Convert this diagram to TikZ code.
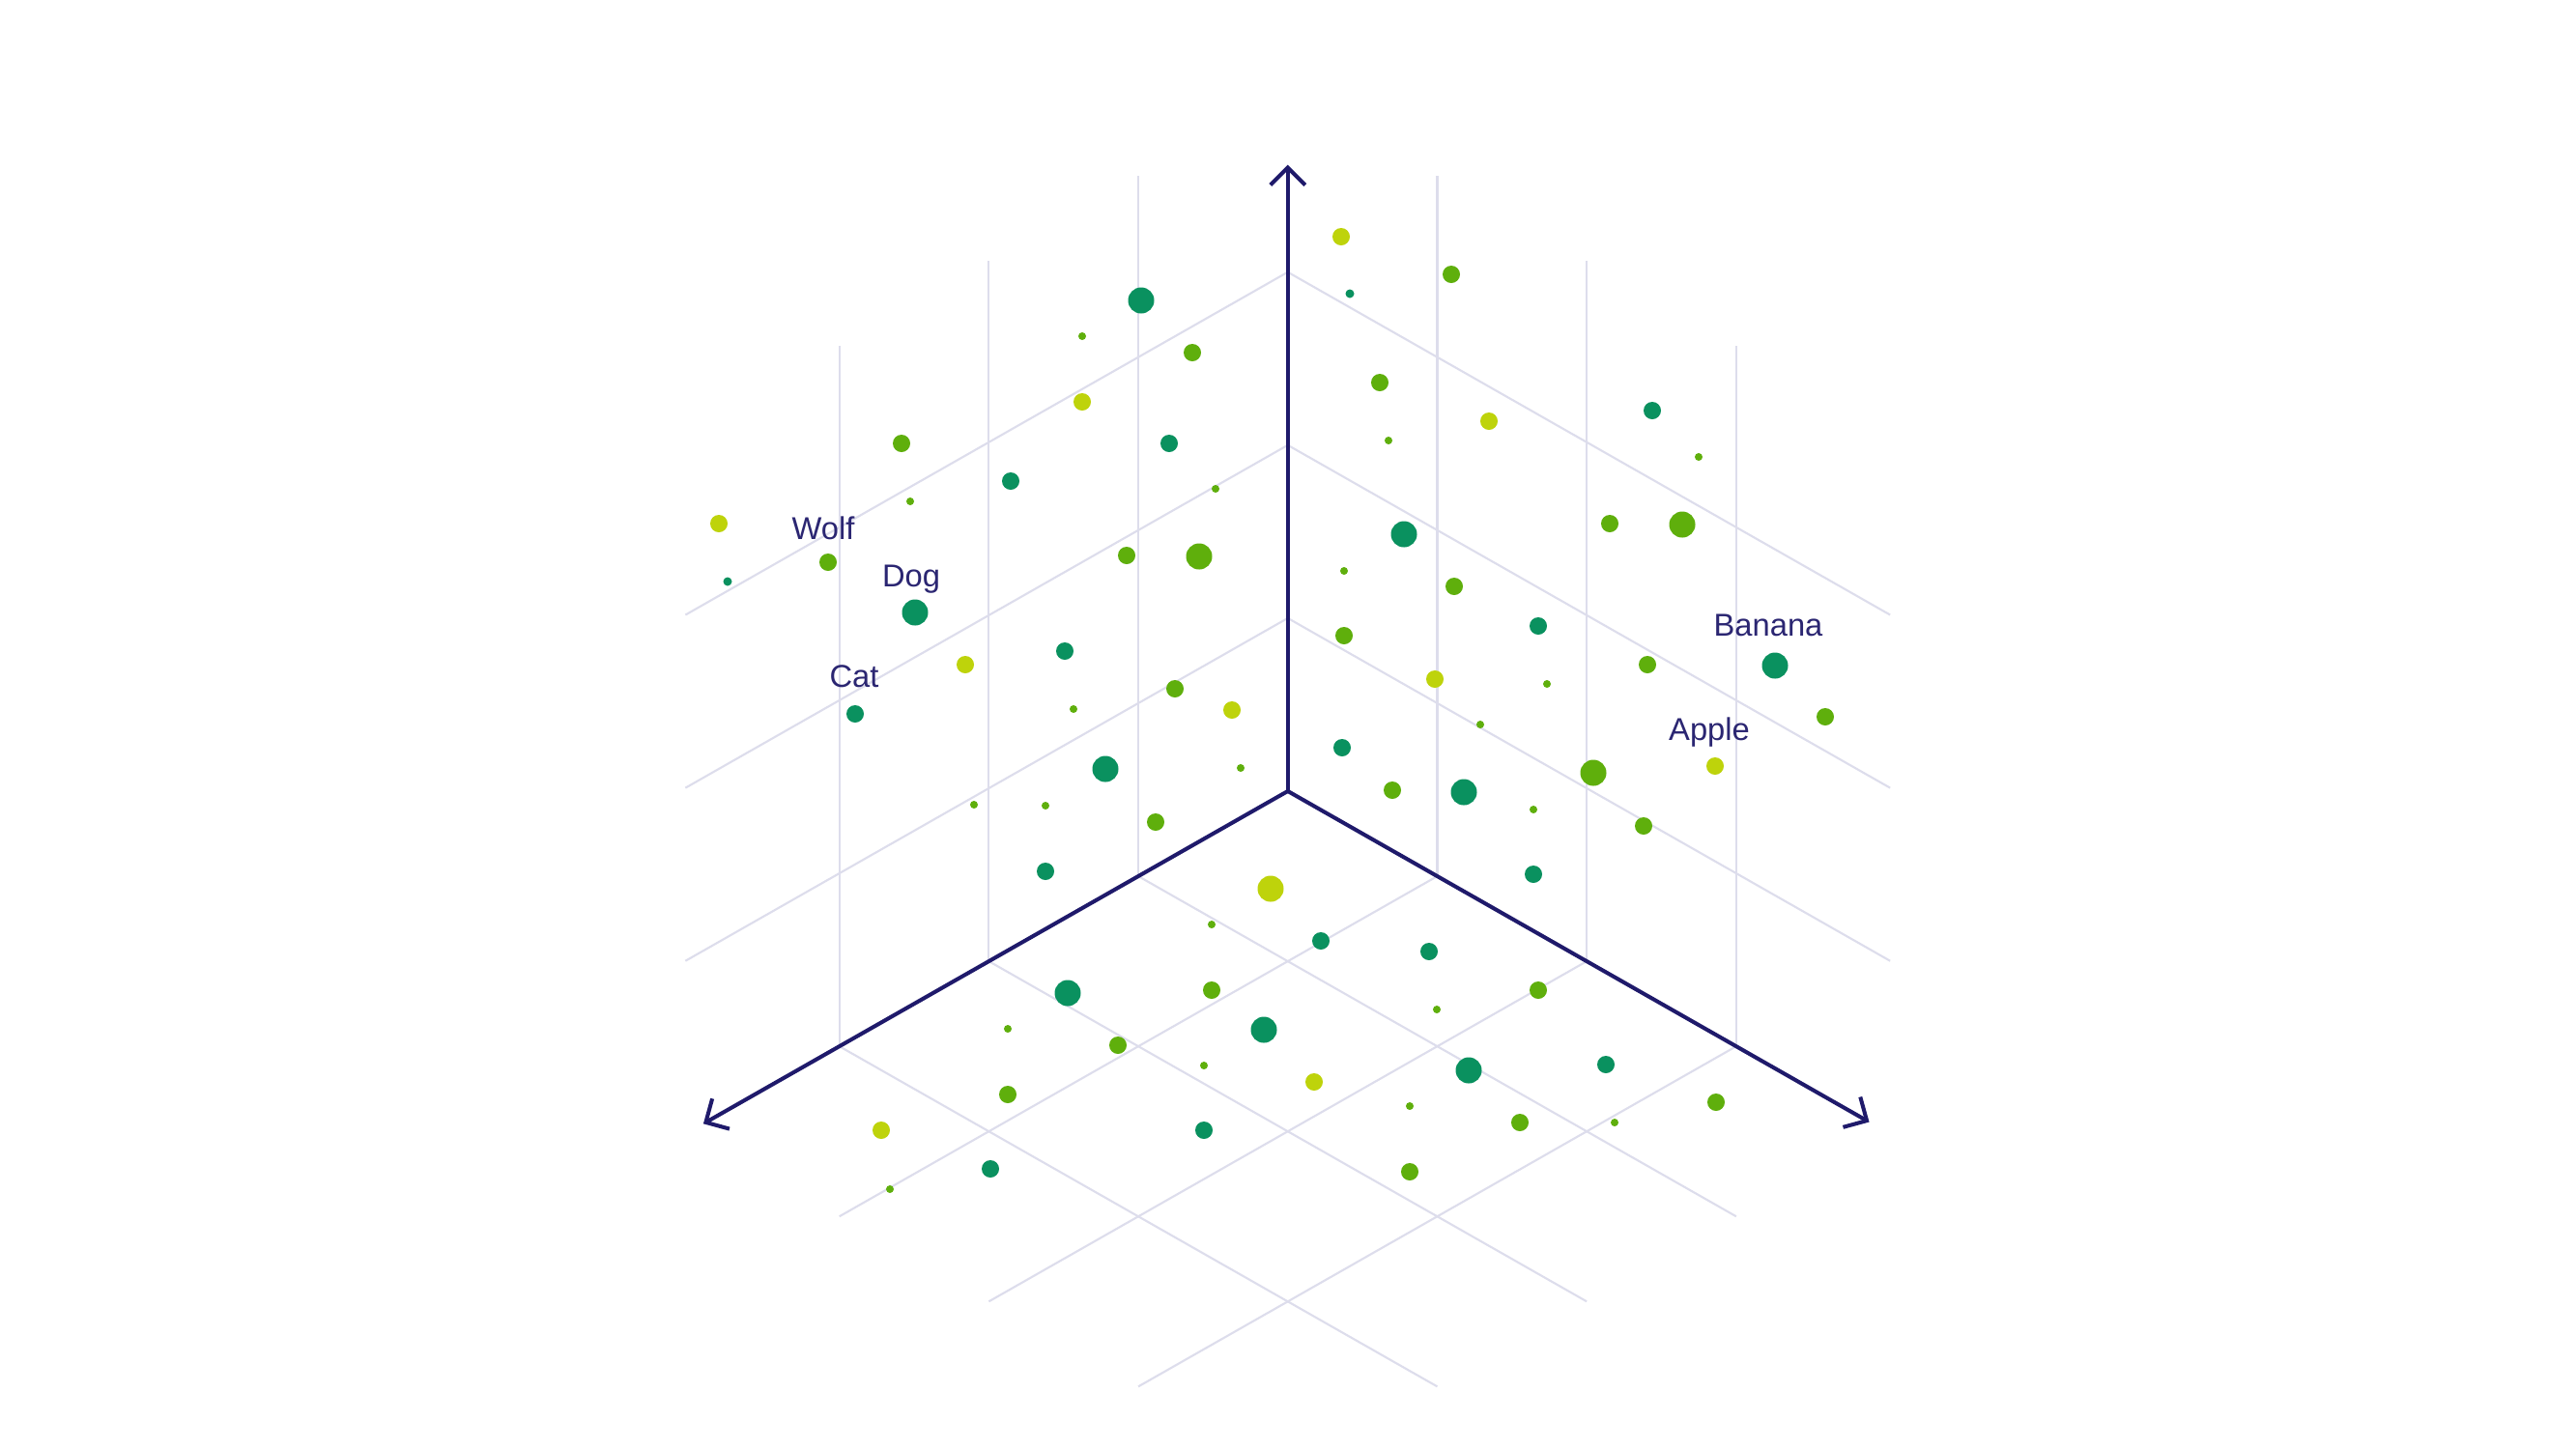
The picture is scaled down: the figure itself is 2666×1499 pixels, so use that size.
\documentclass[tikz,border=0pt]{standalone}
\usepackage{fontspec}
\setmainfont{Liberation Sans}
\usetikzlibrary{arrows.meta}
\definecolor{dg}{HTML}{0A915F}
\definecolor{mg}{HTML}{5FAF0C}
\definecolor{yg}{HTML}{BED30B}
\definecolor{navy}{HTML}{1F1A6B}
\definecolor{labelc}{HTML}{2B2672}
\definecolor{gridc}{HTML}{DDDDEC}
\begin{document}
\begin{tikzpicture}[x=0.01cm,y=-0.01cm,
  gridline/.style={draw=gridc, line width=0.6pt},
  axisline/.style={draw=navy, line width=1.15pt, line cap=round, line join=round, -{Straight Barb[length=1.8mm,width=3.6mm]}},
  lbl/.style={text=labelc, font=\fontsize{9.3}{11}\selectfont, anchor=base, inner sep=0pt},
  dL/.style={radius=1.35mm}, dM/.style={radius=0.9mm}, dS/.style={radius=0.45mm}, dT/.style={radius=0.4mm}]
\fill[white] (0,0) rectangle (2666,1499);
\useasboundingbox (0,0) rectangle (2666,1499);

\begin{scope}[shift={(13.32cm,-8.185cm)}, x={(-1.546cm,-0.88cm)}, y={(1.546cm,-0.88cm)}, z={(0cm,1.79cm)}]
  % left wall (b=0)
  \foreach \a in {1,2,3} \draw[gridline] (\a,0,0) -- (\a,0,4.05);
  \foreach \c in {1,2,3} \draw[gridline] (0,0,\c) -- (4.03,0,\c);
  % right wall (a=0)
  \foreach \b in {1,2,3} \draw[gridline] (0,\b,0) -- (0,\b,4.05);
  \foreach \c in {1,2,3} \draw[gridline] (0,0,\c) -- (0,4.03,\c);
  % floor (c=0)
  \foreach \a in {1,2,3} \draw[gridline] (\a,0,0) -- (\a,4.0,0);
  \foreach \b in {1,2,3} \draw[gridline] (0,\b,0) -- (4.0,\b,0);
  % axes
  \coordinate (O) at (0,0,0);
  \coordinate (tipU) at (0,0,3.62);
  \coordinate (tipL) at (3.91,0,0);
  \coordinate (tipR) at (0,3.89,0);
\end{scope}
\draw[axisline] (O) -- (tipU);
\draw[axisline] (O) -- (tipL);
\draw[axisline] (O) -- (tipR);

% dots
\foreach \x/\y/\c/\s in {
  1388/245/yg/dM, 1397/304/dg/dS, 1181/311/dg/dL, 1120/348/mg/dT, 1234/365/mg/dM,
  1120/416/yg/dM, 933/459/mg/dM, 1210/459/dg/dM, 1046/498/dg/dM, 942/519/mg/dT,
  1258/506/mg/dT, 744/542/yg/dM, 857/582/mg/dM, 753/602/dg/dS, 1166/575/mg/dM,
  1241/576/mg/dL, 1391/591/mg/dT, 947/634/dg/dL, 1102/674/dg/dM, 999/688/yg/dM,
  1391/658/mg/dM, 885/739/dg/dM, 1216/713/mg/dM, 1275/735/yg/dM, 1111/734/mg/dT,
  1389/774/dg/dM, 1144/796/dg/dL, 1284/795/mg/dT, 1008/833/mg/dT, 1082/834/mg/dT,
  1196/851/mg/dM,
  1502/284/mg/dM, 1428/396/mg/dM, 1541/436/yg/dM, 1710/425/dg/dM, 1437/456/mg/dT,
  1758/473/mg/dT, 1453/553/dg/dL, 1666/542/mg/dM, 1741/543/mg/dL, 1505/607/mg/dM,
  1592/648/dg/dM, 1705/688/mg/dM, 1837/689/dg/dL, 1485/703/yg/dM, 1601/708/mg/dT,
  1532/750/mg/dT, 1889/742/mg/dM, 1775/793/yg/dM, 1441/818/mg/dM, 1515/820/dg/dL,
  1649/800/mg/dL, 1587/838/mg/dT, 1701/855/mg/dM,
  1082/902/dg/dM, 1315/920/yg/dL, 1254/957/mg/dT, 1367/974/dg/dM, 1105/1028/dg/dL,
  1254/1025/mg/dM, 1043/1065/mg/dT, 1157/1082/mg/dM, 1308/1066/dg/dL, 1246/1103/mg/dT,
  1360/1120/yg/dM, 1043/1133/mg/dM, 912/1170/yg/dM, 1246/1170/dg/dM, 1025/1210/dg/dM,
  921/1231/mg/dT,
  1587/905/dg/dM, 1479/985/dg/dM, 1592/1025/mg/dM, 1487/1045/mg/dT, 1520/1108/dg/dL,
  1662/1102/dg/dM, 1459/1145/mg/dT, 1573/1162/mg/dM, 1671/1162/mg/dT, 1776/1141/mg/dM,
  1459/1213/mg/dM}
  \fill[\c] (\x,\y) circle[\s];

% labels
\node[lbl] (wolf) at (852,558.5) {Wolf};
\node[lbl] (dog) at (943,607.5) {Dog};
\node[lbl] (cat) at (884,711.5) {Cat};
\node[lbl] (banana) at (1830,658) {Banana};
\node[lbl] (apple) at (1769,766) {Apple};
\end{tikzpicture}
\end{document}
